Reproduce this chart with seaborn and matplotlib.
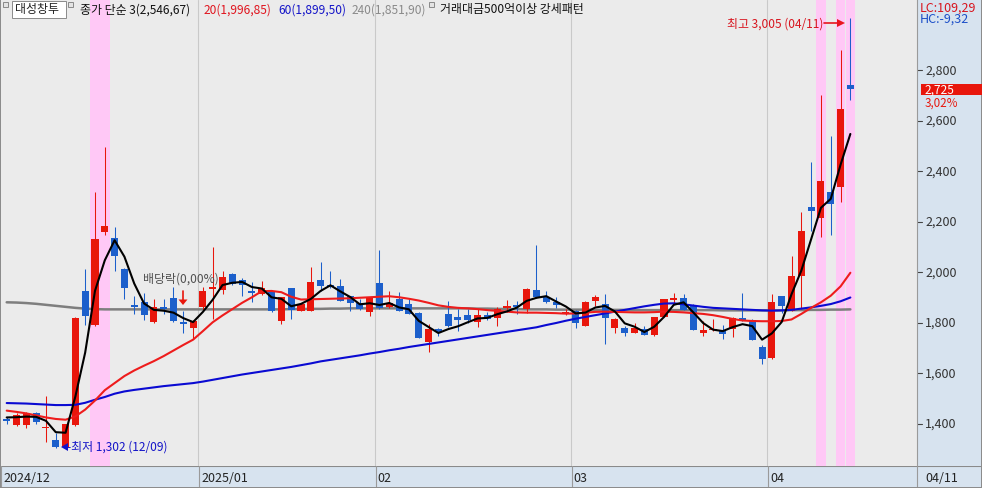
import matplotlib
matplotlib.use('Agg')
from matplotlib import pyplot as plt
from matplotlib.patches import Rectangle, Polygon
from matplotlib.lines import Line2D
import pandas as pd
import seaborn as sns

# daily candles, 2024-12-02 .. 2025-04-11
opens = [1418, 1395, 1395, 1440, 1381, 1335, 1305, 1394, 1924, 1790,
         2160, 2135, 2012, 1871, 1880, 1803, 1860, 1897, 1801, 1778,
         1863, 1933, 1930, 1992, 1970, 1926, 1913, 1926, 1807, 1936,
         1847, 1847, 1970, 1949, 1946, 1904, 1877, 1840, 1957, 1860,
         1893, 1873, 1838, 1724, 1774, 1834, 1823, 1830, 1801, 1830,
         1817, 1859, 1869, 1853, 1929, 1900, 1883, 1836, 1847, 1788,
         1887, 1873, 1777, 1777, 1759, 1774, 1749, 1821, 1891, 1896,
         1864, 1759, 1770, 1772, 1774, 1817, 1811, 1702, 1659, 1904,
         1847, 1985, 2256, 2214, 2318, 2336, 2740]
highs = [1425, 1440, 1445, 1445, 1510, 1362, 1400, 1820, 2010, 2316,
         2495, 2178, 2015, 1906, 1918, 1893, 1893, 1940, 1847, 1808,
         1940, 2098, 2005, 1998, 1975, 1960, 1966, 1928, 1902, 1938,
         1875, 2019, 2039, 2005, 1972, 1906, 1892, 1902, 2087, 1926,
         1922, 1893, 1840, 1794, 1780, 1887, 1853, 1853, 1853, 1840,
         1860, 1889, 1887, 1935, 2107, 1926, 1900, 1853, 1850, 1887,
         1910, 1913, 1816, 1785, 1798, 1785, 1823, 1895, 1917, 1913,
         1875, 1807, 1814, 1790, 1820, 1917, 1815, 1711, 1913, 1906,
         2065, 2236, 2434, 2701, 2537, 2880, 3005]
lows = [1400, 1390, 1382, 1398, 1326, 1302, 1302, 1392, 1790, 1785,
        2145, 2005, 1893, 1835, 1808, 1800, 1835, 1803, 1760, 1735,
        1847, 1814, 1913, 1950, 1906, 1880, 1910, 1843, 1795, 1814,
        1845, 1845, 1925, 1935, 1885, 1847, 1850, 1827, 1854, 1858,
        1845, 1832, 1737, 1684, 1748, 1783, 1768, 1800, 1781, 1810,
        1785, 1840, 1834, 1838, 1898, 1878, 1857, 1830, 1777, 1786,
        1867, 1715, 1759, 1746, 1757, 1749, 1747, 1820, 1877, 1850,
        1770, 1748, 1768, 1735, 1741, 1805, 1730, 1636, 1657, 1838,
        1845, 1853, 2164, 2138, 2147, 2276, 2680]
closes = [1408, 1434, 1440, 1405, 1387, 1305, 1398, 1818, 1827, 2131,
          2181, 2065, 1936, 1862, 1828, 1860, 1852, 1805, 1795, 1805,
          1926, 1940, 1979, 1953, 1950, 1918, 1936, 1845, 1900, 1848,
          1873, 1959, 1943, 1940, 1887, 1877, 1852, 1900, 1856, 1876,
          1847, 1834, 1739, 1774, 1762, 1785, 1808, 1810, 1830, 1815,
          1853, 1864, 1860, 1933, 1900, 1880, 1870, 1840, 1798, 1880,
          1900, 1817, 1814, 1759, 1777, 1751, 1821, 1893, 1896, 1851,
          1772, 1770, 1773, 1755, 1817, 1808, 1732, 1656, 1883, 1867,
          1985, 2164, 2240, 2359, 2270, 2645, 2725]
pre_closes = [1431, 1433]  # two closes before the window, for the 3-day average

ma20 = [1451, 1446, 1440, 1432, 1424, 1418, 1415, 1428, 1455, 1491,
        1532, 1560, 1588, 1610, 1629, 1647, 1667, 1689, 1711, 1732,
        1766, 1801, 1828, 1853, 1878, 1900, 1924, 1925, 1920, 1902,
        1891, 1892, 1893, 1894, 1895, 1896, 1898, 1900, 1902, 1904,
        1900, 1894, 1887, 1878, 1868, 1862, 1858, 1856, 1853, 1849,
        1846, 1843, 1840, 1839, 1839, 1838, 1837, 1835, 1836, 1839,
        1842, 1843, 1842, 1841, 1840, 1840, 1841, 1843, 1842, 1840,
        1837, 1834, 1829, 1822, 1814, 1808, 1806, 1805, 1805, 1806,
        1812, 1834, 1858, 1880, 1906, 1943, 1997]
ma60 = [1481, 1480, 1479, 1477, 1475, 1473, 1473, 1474, 1482, 1494,
        1505, 1518, 1527, 1533, 1538, 1543, 1548, 1552, 1556, 1560,
        1566, 1573, 1580, 1587, 1594, 1600, 1606, 1612, 1618, 1624,
        1631, 1638, 1646, 1652, 1658, 1664, 1670, 1677, 1683, 1690,
        1696, 1703, 1709, 1715, 1721, 1727, 1733, 1739, 1745, 1751,
        1757, 1763, 1769, 1775, 1781, 1790, 1798, 1807, 1815, 1822,
        1829, 1836, 1843, 1850, 1857, 1864, 1870, 1875, 1876, 1872,
        1867, 1862, 1858, 1856, 1854, 1852, 1850, 1848, 1847, 1848,
        1850, 1855, 1860, 1866, 1873, 1884, 1899]
ma240 = [1880, 1879, 1877, 1874, 1870, 1866, 1862, 1858, 1855, 1853,
         1852, 1852, 1852, 1852, 1852, 1852, 1852, 1852, 1852, 1852,
         1852, 1852, 1852, 1852, 1852, 1852, 1852, 1852, 1852, 1853,
         1853, 1854, 1854, 1855, 1855, 1856, 1856, 1856, 1856, 1856,
         1856, 1856, 1856, 1856, 1856, 1856, 1856, 1856, 1855, 1855,
         1854, 1853, 1853, 1852, 1852, 1852, 1851, 1851, 1851, 1851,
         1850, 1850, 1850, 1850, 1849, 1849, 1849, 1849, 1849, 1849,
         1849, 1849, 1849, 1848, 1848, 1848, 1848, 1848, 1848, 1848,
         1849, 1849, 1850, 1850, 1851, 1851, 1852]

highlight_days = [9, 10, 83, 85, 86]
month_first_idx = [20, 38, 58, 78]
date_labels = ['2024/12', '2025/01', '02', '03', '04']
price_ticks = [1400, 1600, 1800, 2000, 2200, 2400, 2600, 2800]

RED = '#E8160C'
BLUE = '#1C5FCB'
W, H = 982, 489

sns.set_theme(style='white')
plt.rcParams['font.family'] = ['Noto Sans CJK KR', 'DejaVu Sans']
narrow = ['Liberation Sans Narrow', 'Noto Sans CJK KR', 'DejaVu Sans']


def fx(px):
    return px / W


def fy(py):
    return 1 - py / H


def box(x0, y0, x1, y1):
    return [x0 / W, 1 - y1 / H, (x1 - x0) / W, (y1 - y0) / H]


fig = plt.figure(figsize=(W / 100, H / 100), dpi=100)
fig.patch.set_facecolor('#8C8C8C')

# pixel -> data mapping of the main panel
SPACING = 9.81
X0 = 6.7
xlim = ((1 - X0) / SPACING, (917 - X0) / SPACING)
PX_PER_100 = 25.25
ylim = (2800 - (467 - 71) / PX_PER_100 * 100, 2800 + (71 - 1) / PX_PER_100 * 100)

ax = fig.add_axes(box(1, 1, 917, 467))
ax.set_facecolor('#EBEBEB')
ax.set_xlim(*xlim)
ax.set_ylim(*ylim)
ax.set_xticks([])
ax.set_yticks([])
for s in ax.spines.values():
    s.set_visible(False)

# pink pattern days
for d in highlight_days:
    ax.axvspan(d - 0.48, d + 0.48, color='#FFC8F6', lw=0, zorder=0)

# month separators
for m in month_first_idx:
    ax.axvline(m - 0.5, color='#C9C9C9', lw=0.8, zorder=0.5)

# candles
wick_lw = 0.75
for i in range(len(closes)):
    o, h, l, c = opens[i], highs[i], lows[i], closes[i]
    col = RED if c >= o else BLUE
    ax.vlines(i, l, h, color=col, lw=wick_lw, zorder=2)
    lo = min(o, c)
    hgt = max(abs(c - o), 5)
    ax.bar(i, hgt, bottom=lo, width=0.72, color=col, lw=0, zorder=2.1)

# moving averages
idx = list(range(len(closes)))
ma3 = pd.Series(pre_closes + closes).rolling(3).mean().iloc[2:].tolist()
df = pd.DataFrame({'i': idx, 'ma3': ma3, 'ma20': ma20, 'ma60': ma60, 'ma240': ma240})
sns.lineplot(data=df, x='i', y='ma240', color='#7E7E7E', lw=1.8, ax=ax, zorder=1.5)
sns.lineplot(data=df, x='i', y='ma60', color='#0A0AD2', lw=1.5, ax=ax, zorder=3)
sns.lineplot(data=df, x='i', y='ma20', color='#EE1C1C', lw=1.5, ax=ax, zorder=3.1)
sns.lineplot(data=df, x='i', y='ma3', color='black', lw=1.5, ax=ax, zorder=3.2)
ax.set_xlabel('')
ax.set_ylabel('')
ax.set_xlim(*xlim)
ax.set_ylim(*ylim)

# header legend
def icon(px, py):
    fig.add_artist(Rectangle((fx(px), fy(py + 5)), 5 / W, 5 / H, transform=fig.transFigure,
                             facecolor='#E4E4E4', edgecolor='#8A8A8A', lw=0.7))

icon(3, 3)
fig.add_artist(Rectangle((fx(12), fy(19)), 54 / W, 17 / H, transform=fig.transFigure,
                         facecolor='white', edgecolor='#8A8A8A', lw=0.7))
fig.text(fx(15), fy(10), '대성창투', fontsize=8.6, va='center', color='#222222')
icon(68, 3)
fig.text(fx(80), fy(10), '종가 단순 3(2,546,67)', fontsize=8.6, va='center', color='#111111')
fig.text(fx(204), fy(10), '20(1,996,85)', fontsize=8.6, va='center', color='#E0141E')
fig.text(fx(278), fy(10), '60(1,899,50)', fontsize=8.6, va='center', color='#1414C8')
fig.text(fx(352), fy(10), '240(1,851,90)', fontsize=8.6, va='center', color='#8A8A8A')
icon(429, 3)
fig.text(fx(440), fy(10), '거래대금500억이상 강세패턴', fontsize=8.6, va='center', color='#111111')

# annotations
fig.text(fx(727), fy(24), '최고 3,005 (04/11)', fontsize=8.6, va='center', color='#D8141E')
fig.add_artist(Line2D([fx(824), fx(838)], [fy(24), fy(24)], color='#E8161E', lw=1.2,
                      transform=fig.transFigure))
fig.add_artist(Polygon([(fx(837), fy(20)), (fx(845), fy(24)), (fx(837), fy(28))], closed=True,
                       transform=fig.transFigure, color='#E8161E', lw=0))

fig.add_artist(Polygon([(fx(61), fy(448)), (fx(68), fy(444)), (fx(68), fy(452))], closed=True,
                       transform=fig.transFigure, color='#1414C8', lw=0))
fig.text(fx(67), fy(447), '-최저 1,302 (12/09)', fontsize=8.6, va='center', color='#1414C8')

fig.text(fx(143), fy(279), '배당락(0,00%)', fontsize=8.6, va='center', color='#505050')
fig.add_artist(Line2D([fx(183), fx(183)], [fy(292), fy(301)], color=RED, lw=1.2,
                      transform=fig.transFigure))
fig.add_artist(Polygon([(fx(178.5), fy(300.5)), (fx(187.5), fy(300.5)), (fx(183), fy(306))],
                       closed=True, transform=fig.transFigure, color=RED, lw=0))

# right price axis
ax2 = fig.add_axes(box(917, 1, 981, 467))
ax2.set_facecolor('#D7E3EF')
ax2.set_ylim(*ylim)
ax2.set_xlim(0, 64)
ax2.set_xticks([])
ax2.set_yticks([])
for s in ax2.spines.values():
    s.set_visible(False)
ax2.spines['left'].set_visible(True)
ax2.spines['left'].set_color('#9A9A9A')
ax2.spines['left'].set_linewidth(0.8)
for t in price_ticks:
    ax2.plot([0, 5], [t, t], color='#444444', lw=0.8)
    ax2.text(8, t, '{:,}'.format(t), fontsize=9, va='center', ha='left',
             color='#333333', family=narrow)
fig.text(fx(920), fy(8), 'LC:109,29', fontsize=9, va='center', color='#D8141E', family=narrow)
fig.text(fx(920), fy(19.5), 'HC:-9,32', fontsize=9, va='center', color='#1C4FC8', family=narrow)
fig.add_artist(Rectangle((fx(921), fy(96)), 61 / W, 11.5 / H, transform=fig.transFigure,
                         facecolor='#E8160C', lw=0))
fig.text(fx(925), fy(90.3), '{:,}'.format(closes[-1]), fontsize=8.6, va='center', color='white',
         family=narrow)
fig.text(fx(925), fy(103), '3,02%', fontsize=8.4, va='center', color='#E8160C', family=narrow)

# bottom date bar
ax3 = fig.add_axes(box(1, 467, 981, 488))
ax3.set_facecolor('#D7E3EF')
ax3.set_xlim(0, 980)
ax3.set_ylim(0, 1)
ax3.set_xticks([])
ax3.set_yticks([])
for s in ax3.spines.values():
    s.set_visible(False)
ax3.axhline(1, color='#8A8A8A', lw=1.5)
sep_px = [X0 + (m - 0.5) * SPACING for m in month_first_idx]
for px, lab in zip([0] + sep_px, date_labels):
    ax3.axvline(px, color='#9A9A9A', lw=0.8)
    ax3.text(px + 2, 0.45, lab, fontsize=9, va='center', color='#222222', family=narrow)
ax3.axvline(916, color='#9A9A9A', lw=0.8)
ax3.text(924, 0.45, '04/11', fontsize=9, va='center', color='#222222', family=narrow)

fig.savefig('out.png', dpi=100, facecolor=fig.get_facecolor())
